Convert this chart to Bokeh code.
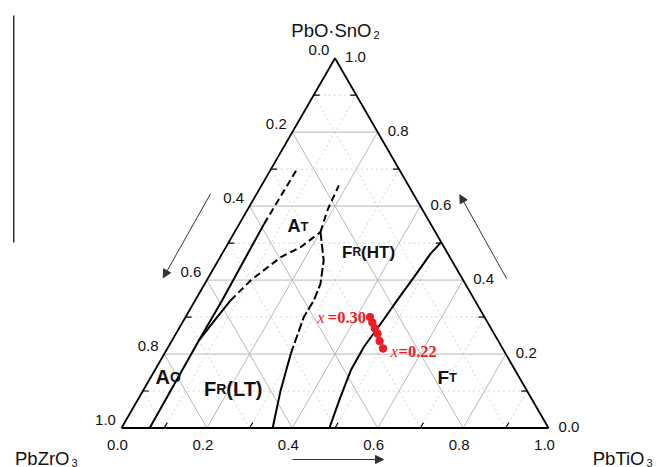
import math
from bokeh.plotting import figure
from bokeh.models import Range1d, Arrow, NormalHead
from bokeh.core.properties import value
from bokeh.embed import file_html
from bokeh.resources import INLINE

# ---------------- data (ternary compositions: Ti = PbTiO3 fraction, Sn = PbO.SnO2 fraction) -------------
tick_values = [0.0, 0.2, 0.4, 0.6, 0.8, 1.0]
tick_labels = ["0.0", "0.2", "0.4", "0.6", "0.8", "1.0"]
grid_fracs = [0.1, 0.2, 0.3, 0.4, 0.5, 0.6, 0.7, 0.8, 0.9]

# boundary A (AO | FR), near the PbZrO3 side
a_solid_ti = [0.066, 0.063, 0.063, 0.058]
a_solid_sn = [0.0, 0.237, 0.345, 0.552]
a_dash_ti = [0.058, 0.061]
a_dash_sn = [0.552, 0.701]
# boundary B (AT | FR)
b_solid_ti = [0.063, 0.074, 0.083]
b_solid_sn = [0.237, 0.300, 0.345]
b_dash_ti = [0.083, 0.103, 0.142, 0.175, 0.201]
b_dash_sn = [0.345, 0.399, 0.462, 0.489, 0.530]
# boundary C (AT | FR(HT))
c_ti = [0.201, 0.188, 0.186, 0.181]
c_sn = [0.530, 0.588, 0.606, 0.656]
# boundary D (FR(LT) | FR(HT))
d_dash_ti = [0.201, 0.247, 0.271, 0.278, 0.277, 0.296]
d_dash_sn = [0.530, 0.453, 0.390, 0.345, 0.300, 0.201]
d_solid_ti = [0.296, 0.322, 0.354]
d_solid_sn = [0.201, 0.101, 0.0]
# boundary E (FR | FT)
e_ti = [0.4975, 0.488, 0.481, 0.473, 0.466, 0.458, 0.459, 0.471, 0.483, 0.487]
e_sn = [0.5025, 0.471, 0.408, 0.345, 0.282, 0.219, 0.156, 0.083, 0.020, 0.0]
# samples x = 0.30 ... 0.22
sample_sn = [0.30, 0.285, 0.27, 0.255, 0.235, 0.215]
sample_ti = [0.432, 0.445, 0.458, 0.472, 0.487, 0.505]
sample_first_label = "0.30"
sample_last_label = "0.22"

vertex_names = [("PbZrO", "3"), ("PbTiO", "3"), ("PbO\u00b7SnO", "2")]

# ---------------- geometry helpers ----------------
S = 427.0          # pixels per unit side
R3 = math.sqrt(3) / 2.0
OX, OY = 121.0, 427.5   # screen position of the PbZrO3 corner
W, H = 656, 467


def xy(ti, sn):
    return ti + sn / 2.0, sn * R3


def xy_list(tis, sns):
    xs, ys = [], []
    for t, s in zip(tis, sns):
        x, y = xy(t, s)
        xs.append(x)
        ys.append(y)
    return xs, ys


def off(x, y, dx_px, dy_px):  # dy_px > 0 means downwards on screen
    return x + dx_px / S, y - dy_px / S


p = figure(width=W, height=H,
           x_range=Range1d(-OX / S, (W - OX) / S), y_range=Range1d((OY - H) / S, OY / S),
           x_axis_location=None, y_axis_location=None,
           toolbar_location=None, output_backend="svg", min_border=0)
p.outline_line_color = None
p.xgrid.visible = False
p.ygrid.visible = False
p.background_fill_color = "white"
p.border_fill_color = "white"

# ---------------- ternary grid ----------------
solid_xs, solid_ys, dot_xs, dot_ys = [], [], [], []
for f in grid_fracs:
    segs = [((0, f), (1 - f, f)), ((f, 0), (f, 1 - f)), ((1 - f, 0), (0, 1 - f))]
    for (t0, s0), (t1, s1) in segs:
        x0, y0 = xy(t0, s0)
        x1, y1 = xy(t1, s1)
        if round(f * 10) % 2 == 0:
            solid_xs.append([x0, x1]); solid_ys.append([y0, y1])
        else:
            dot_xs.append([x0, x1]); dot_ys.append([y0, y1])
p.multi_line(dot_xs, dot_ys, line_color="#d4d4d4", line_width=1, line_dash="2 3")
p.multi_line(solid_xs, solid_ys, line_color="#b8b8b8", line_width=1)

# triangle edges
tx, ty = xy_list([0, 1, 0, 0], [0, 0, 1, 0])
p.line(tx, ty, line_color="black", line_width=1.8)

# minor ticks at odd tenths
tk_xs, tk_ys = [], []
for f in grid_fracs:
    if round(f * 10) % 2 == 1:
        x, y = xy(0, f)
        tk_xs.append([x, x + 6 / S]); tk_ys.append([y, y])
        x, y = xy(1 - f, f)
        tk_xs.append([x, x - 6 / S]); tk_ys.append([y, y])
        x, y = xy(f, 0)
        tk_xs.append([x, x + 3 / S]); tk_ys.append([y, y + 5.2 / S])
p.multi_line(tk_xs, tk_ys, line_color="black", line_width=1.2)

# ---------------- phase boundaries ----------------
LW = 2.0
for tis, sns in [(a_solid_ti, a_solid_sn), (b_solid_ti, b_solid_sn), (d_solid_ti, d_solid_sn), (e_ti, e_sn)]:
    xs, ys = xy_list(tis, sns)
    p.line(xs, ys, line_color="black", line_width=LW)
for tis, sns in [(a_dash_ti, a_dash_sn), (b_dash_ti, b_dash_sn)]:
    xs, ys = xy_list(tis, sns)
    p.line(xs, ys, line_color="black", line_width=LW, line_dash="7 4")
xs, ys = xy_list(c_ti, c_sn)
p.line(xs, ys, line_color="black", line_width=LW, line_dash="7 4")
xs, ys = xy_list(d_dash_ti, d_dash_sn)
p.line(xs, ys, line_color="black", line_width=LW, line_dash="9 3")

# samples
RED = "#ee1c24"
sx, sy = xy_list(sample_ti, sample_sn)
p.scatter(sx, sy, size=7.5, fill_color=RED, line_color=RED)

# ---------------- tick labels ----------------
TF = value("Liberation Sans")
lx, ly, rx, ry, bx, by = [], [], [], [], [], []
for v in tick_values:
    x, y = xy(0, 1 - v)            # left axis: PbZrO3 fraction
    x, y = off(x, y, -16, -8)
    lx.append(x); ly.append(y)
    x, y = xy(1 - v, v)            # right axis: PbO.SnO2 fraction
    x, y = off(x, y, 20.5, -1.5)
    rx.append(x); ry.append(y)
    x, y = xy(v, 0)                # bottom axis: PbTiO3 fraction
    x, y = off(x, y, -4, 16.5)
    bx.append(x); by.append(y)
for xs_, ys_ in [(lx, ly), (rx, ry), (bx, by)]:
    p.text(xs_, ys_, text=tick_labels, text_font=TF, text_font_size="15px",
           text_align="center", text_baseline="middle", text_color="#111111")

# vertex names
vpos = [(xy(0, 0), -52, 30.5), (xy(1, 0), 96, 30.5), (xy(0, 1), 36.5, -27.7)]
for (name, sub), ((vx, vy), dx, dy) in zip(vertex_names, vpos):
    x, y = off(vx, vy, dx, dy)
    p.text([x], [y], text=[name], text_font=TF, text_font_size="18.5px",
           text_align="right", text_baseline="alphabetic", text_color="#111111")
    x2, y2 = off(vx, vy, dx + 2, dy + 4.5)
    p.text([x2], [y2], text=[sub], text_font=TF, text_font_size="11px",
           text_align="left", text_baseline="alphabetic", text_color="#111111")

# ---------------- phase region labels ----------------
WB = {"A": 0.722, "F": 0.611, "T": 0.611, "R": 0.722, "O": 0.778, "(": 0.333, ")": 0.333,
      "L": 0.611, "H": 0.722}


def width(txt, size, table):
    return sum(table.get(c, 0.556) for c in txt) * size


regions = [
    ((0.116, 0.545), [("A", 18), ("T", 13)]),
    ((0.279, 0.475), [("F", 17), ("R", 12), ("(HT)", 17)]),
    ((0.140, 0.106), [("F", 20), ("R", 14), ("(LT)", 20)]),
    ((0.010, 0.139), [("A", 20), ("O", 14)]),
    ((0.672, 0.136), [("F", 19), ("T", 13)]),
]
for (t0, s0), pieces in regions:
    bx0, by0 = xy(t0, s0)
    o = 0.0
    for txt, size in pieces:
        x, y = off(bx0, by0, o, 0)
        p.text([x], [y], text=[txt], text_font=TF, text_font_size=f"{size}px",
               text_font_style="bold", text_align="left", text_baseline="alphabetic",
               text_color="#111111")
        o += width(txt, size, WB)

# ---------------- red composition labels ----------------
SF = value("Liberation Serif")
RS = 16.5
WT = {"x": 0.444, "=": 0.570, ".": 0.25}
x, y = off(sx[0], sy[0], -4, 0)
rest = "=" + sample_first_label
p.text([x], [y], text=[rest], text_font=SF, text_font_size=f"{RS}px", text_font_style="bold",
       text_align="right", text_baseline="alphabetic", text_color=RED)
x, y = off(sx[0], sy[0], -4 - width(rest, RS, WT) - 0.5, 0)
p.text([x], [y], text=["x"], text_font=SF, text_font_size=f"{RS}px", text_font_style="italic",
       text_align="right", text_baseline="alphabetic", text_color=RED)
x, y = off(sx[-1], sy[-1], 7.7, 3.4)
p.text([x], [y], text=["x"], text_font=SF, text_font_size=f"{RS}px", text_font_style="italic",
       text_align="left", text_baseline="alphabetic", text_color=RED)
x, y = off(sx[-1], sy[-1], 7.7 + width("x", RS, WT) + 0.5, 3.4)
p.text([x], [y], text=["=" + sample_last_label], text_font=SF, text_font_size=f"{RS}px",
       text_font_style="bold", text_align="left", text_baseline="alphabetic", text_color=RED)


# ---------------- direction arrows ----------------
def page(px, py):
    return (px - OX) / S, (OY - py) / S


AC = "#333333"
for (p0, p1) in [((210, 193.3), (162.7, 277.3)), ((506, 278), (459.3, 194.3)), ((292, 459), (383, 459))]:
    x0, y0 = page(*p0)
    x1, y1 = page(*p1)
    p.add_layout(Arrow(x_start=x0, y_start=y0, x_end=x1, y_end=y1, line_color=AC, line_width=1,
                       end=NormalHead(size=8, fill_color=AC, line_color=AC)))

# stray vertical rule at the far left of the original figure
x0, y0 = page(13.3, 15)
x1, y1 = page(13.3, 242)
p.segment([x0], [y0], [x1], [y1], line_color="black", line_width=1.2)

open("out.html", "w").write(file_html(p, INLINE))
